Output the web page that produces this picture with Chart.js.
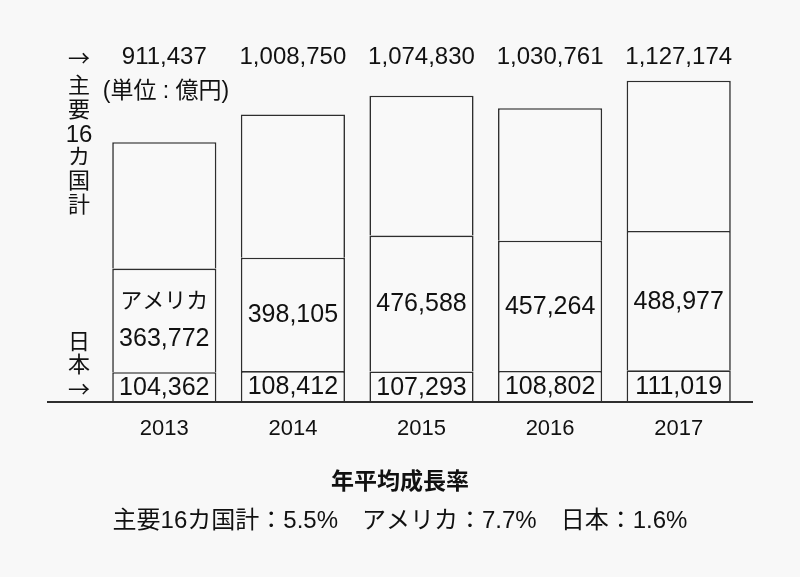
<!DOCTYPE html>
<html lang="ja">
<head>
<meta charset="utf-8">
<title>主要16カ国計・アメリカ・日本</title>
<script src="https://cdn.jsdelivr.net/npm/chart.js@4.4.0/dist/chart.umd.min.js"></script>
<style>
  html, body { margin: 0; padding: 0; background: #f8f8f8; }
  #wrap { position: relative; width: 800px; height: 577px; }
</style>
</head>
<body>
<div id="wrap"><canvas id="chart" width="800" height="577"></canvas></div>
<script>
const years = ["2013", "2014", "2015", "2016", "2017"];
const totalValues = [911437, 1008750, 1074830, 1030761, 1127174];
const usValues = [363772, 398105, 476588, 457264, 488977];
const japanValues = [104362, 108412, 107293, 108802, 111019];
const restValues = totalValues.map((t, i) => t - usValues[i] - japanValues[i]);

const FONT = '"Liberation Sans", "Noto Sans CJK JP", sans-serif';
const CJK = '"Noto Sans CJK JP", sans-serif';
const INK = "#111";
const LINE = "#2e2e2e";

Chart.defaults.font.family = FONT;
Chart.defaults.color = INK;

const fmt = v => v.toLocaleString("en-US");

// 背景
const bgPlugin = {
  id: "bg",
  beforeDraw(chart) {
    const ctx = chart.ctx;
    ctx.save();
    ctx.fillStyle = "#f8f8f8";
    ctx.fillRect(0, 0, chart.width, chart.height);
    ctx.restore();
  }
};

// ラベル類
const labelPlugin = {
  id: "labels",
  afterDatasetsDraw(chart) {
    const ctx = chart.ctx;
    const area = chart.chartArea;
    const jp = chart.getDatasetMeta(0).data;
    const us = chart.getDatasetMeta(1).data;

    ctx.save();
    // 横軸の線
    ctx.strokeStyle = LINE;
    ctx.lineWidth = 2;
    ctx.beginPath();
    ctx.moveTo(47, area.bottom);
    ctx.lineTo(753, area.bottom);
    ctx.stroke();

    ctx.fillStyle = INK;
    ctx.textAlign = "center";
    ctx.textBaseline = "middle";

    // 合計
    ctx.font = "24px " + FONT;
    jp.forEach((bar, i) => {
      ctx.fillText(fmt(totalValues[i]), bar.x, 57);
    });

    // 日本・アメリカ
    ctx.font = "25px " + FONT;
    jp.forEach((bar, i) => {
      ctx.fillText(fmt(japanValues[i]), bar.x, (bar.y + bar.base) / 2 + 1);
    });
    us.forEach((bar, i) => {
      const mid = (bar.y + bar.base) / 2;
      if (i === 0) {
        ctx.font = "22px " + FONT;
        ctx.fillText("アメリカ", bar.x, mid - 18);
        ctx.font = "25px " + FONT;
        ctx.fillText(fmt(usValues[i]), bar.x, mid + 19);
      } else {
        ctx.fillText(fmt(usValues[i]), bar.x, mid + 1);
      }
    });

    // 単位
    ctx.font = "23px " + FONT;
    ctx.fillText("(単位 : 億円)", 166, 92);

    // 縦書き
    const top = ["→", "主", "要", "16", "カ", "国", "計"];
    const topY = [58, 87, 111, 135, 158, 182, 206];
    top.forEach((s, k) => {
      ctx.font = (s === "16" ? "24px " : "22px ") + (s === "→" ? CJK : FONT);
      ctx.fillText(s, 79, topY[k]);
    });
    const bottom = ["日", "本", "→"];
    const bottomY = [343, 366, 389];
    bottom.forEach((s, k) => {
      ctx.font = "22px " + (s === "→" ? CJK : FONT);
      ctx.fillText(s, 79, bottomY[k]);
    });

    // 年平均成長率
    ctx.font = "bold 23px " + FONT;
    ctx.fillText("年平均成長率", 400, 483);
    ctx.font = "24px " + FONT;
    ctx.fillText("主要16カ国計：5.5%　アメリカ：7.7%　日本：1.6%", 400, 521);
    ctx.restore();
  }
};

const barStyle = {
  backgroundColor: "#f9f9f9",
  borderColor: LINE,
  borderWidth: { top: 1.6, left: 1.6, right: 1.6, bottom: 0 },
  borderSkipped: false,
  categoryPercentage: 1,
  barPercentage: 0.81
};

new Chart(document.getElementById("chart"), {
  type: "bar",
  data: {
    labels: years,
    datasets: [
      { label: "日本", data: japanValues, ...barStyle },
      { label: "アメリカ", data: usValues, ...barStyle },
      { label: "その他", data: restValues, ...barStyle }
    ]
  },
  options: {
    responsive: false,
    animation: false,
    layout: { padding: { top: 60, left: 100, right: 57, bottom: 0 } },
    plugins: {
      legend: { display: false },
      tooltip: { enabled: false }
    },
    scales: {
      x: {
        stacked: true,
        grid: { display: false, drawTicks: false },
        border: { display: false },
        ticks: { padding: 14, color: INK, font: { size: 22 } },
        afterFit: s => { s.height = 175; }
      },
      y: {
        stacked: true,
        display: false,
        min: 0,
        max: 1200000
      }
    }
  },
  plugins: [bgPlugin, labelPlugin]
});
</script>
</body>
</html>
